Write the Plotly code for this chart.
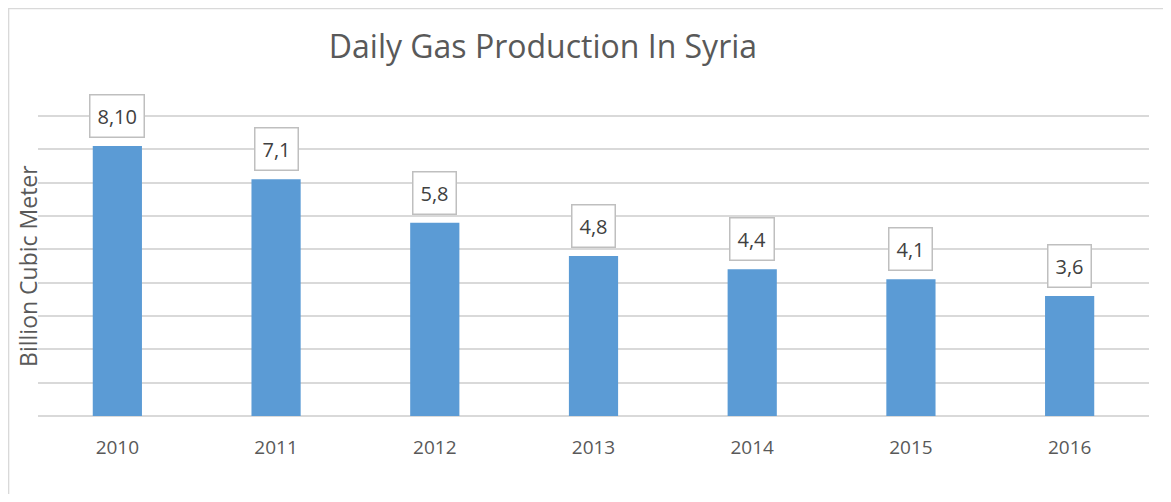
import plotly.graph_objects as go

# data
years = ["2010", "2011", "2012", "2013", "2014", "2015", "2016"]
production = [8.10, 7.1, 5.8, 4.8, 4.4, 4.1, 3.6]
value_labels = ["8,10", "7,1", "5,8", "4,8", "4,4", "4,1", "3,6"]

FONT = "Open Sans"
TEXT_GREY = "#595959"
GRID_GREY = "#D9D9D9"

fig = go.Figure()

fig.add_trace(go.Bar(
    x=years, y=production,
    marker_color="#5B9BD5", marker_line_width=0,
    hoverinfo="skip",
))

# boxed value labels above each bar (category index for x)
for i, (val, lab) in enumerate(zip(production, value_labels)):
    fig.add_annotation(
        x=i, y=val, text=lab, showarrow=False,
        yanchor="bottom", yshift=8,
        font=dict(family=FONT, size=20, color="#404040"),
        bgcolor="white", bordercolor="#BFBFBF", borderwidth=1.5, borderpad=7,
    )

# y axis title
fig.add_annotation(
    xref="paper", yref="paper", x=-0.009, y=0.497,
    text="Billion Cubic Meter", textangle=-90, showarrow=False,
    xanchor="center", yanchor="middle",
    font=dict(family=FONT, size=23, color=TEXT_GREY),
)

# chart border (left and top edges visible)
fig.add_shape(
    type="rect", xref="paper", yref="paper",
    x0=-0.0265, x1=1.1, y0=-0.5, y1=1.349,
    line=dict(color=GRID_GREY, width=1.5), fillcolor="rgba(0,0,0,0)",
    layer="below",
)

# page body has an 8px margin, so the figure is offset by 8px
fig.update_layout(
    width=1155, height=486,
    margin=dict(l=30, r=14, t=106, b=78),
    paper_bgcolor="white", plot_bgcolor="white",
    bargap=0.69,
    showlegend=False,
    title=dict(
        text="Daily Gas Production In Syria",
        x=0.4545, xref="paper", xanchor="center",
        y=1 - 39 / 486, yanchor="middle",
        font=dict(family=FONT, size=32, color=TEXT_GREY),
    ),
)

fig.update_xaxes(
    type="category", range=[-0.5, len(years) - 0.5],
    showgrid=False, showline=False, ticks="outside", ticklen=14, tickcolor="rgba(0,0,0,0)",
    tickfont=dict(family=FONT, size=19, color=TEXT_GREY),
)
fig.update_yaxes(
    range=[0, 9.06], dtick=1, showticklabels=False,
    showgrid=True, gridcolor=GRID_GREY, gridwidth=1.5,
    zeroline=True, zerolinecolor=GRID_GREY, zerolinewidth=2,
)

fig.write_html("out.html")
